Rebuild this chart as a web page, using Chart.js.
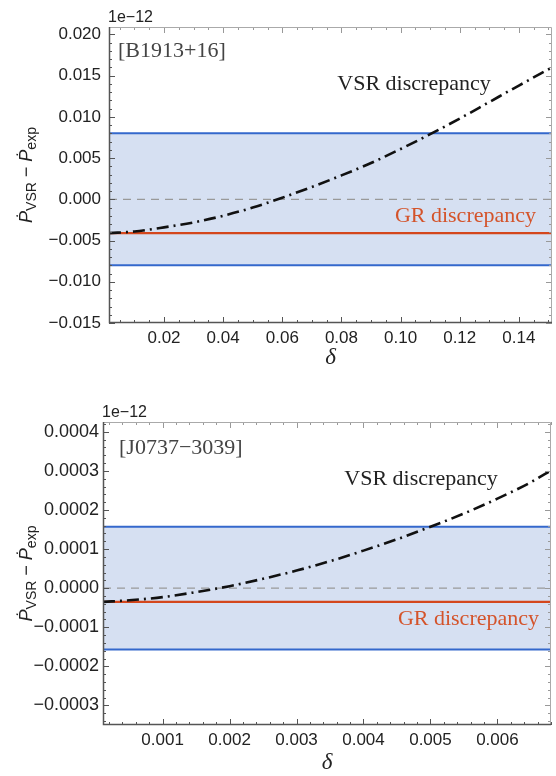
<!DOCTYPE html>
<html><head><meta charset="utf-8">
<script src="https://cdn.jsdelivr.net/npm/chart.js@4.4.0/dist/chart.umd.min.js"></script>
<style>
html,body{margin:0;padding:0;background:#fff;}
body{width:556px;height:776px;overflow:hidden;}
canvas{display:block;}
</style>
</head><body>
<canvas id="c1" width="556" height="378"></canvas>
<canvas id="c2" width="556" height="398"></canvas>
<script>
// ---------- DATA: top panel [B1913+16] ----------
const deltaTop = [0.0014, 0.01, 0.02, 0.03, 0.04, 0.05, 0.06, 0.07, 0.08, 0.09, 0.10, 0.11, 0.12, 0.13, 0.14, 0.1512];
const vsrTop   = [-0.0041, -0.0039, -0.0034, -0.0028, -0.0020, -0.0010, 0.0002, 0.0015, 0.0029, 0.0044, 0.0061, 0.0079, 0.0098, 0.0118, 0.0138, 0.0160];
const bandTop  = [-0.008, 0.008];
const grTop    = -0.0041;
const xRangeTop = [0.0014, 0.1512];
const yRangeTop = [-0.015, 0.0209];
const xStepsTop = [0.005, 0.02];   // minor, major
const yStepsTop = [0.001, 0.005];

// ---------- DATA: bottom panel [J0737-3039] ----------
const deltaBot = [0.00011, 0.0005, 0.001, 0.0015, 0.002, 0.0025, 0.003, 0.0035, 0.004, 0.0045, 0.005, 0.0055, 0.006, 0.0065, 0.0068];
const vsrBot   = [-0.000035, -0.000031, -0.000023, -0.000010, 0.000005, 0.000024, 0.000045, 0.000069, 0.000096, 0.000125, 0.000157, 0.000191, 0.000229, 0.000271, 0.000301];
const bandBot  = [-0.000157, 0.000157];
const grBot    = -0.000035;
const xRangeBot = [0.00011, 0.0068];
const yRangeBot = [-0.00035, 0.000425];
const xStepsBot = [0.0002, 0.001];
const yStepsBot = [0.00002, 0.0001];

// ---------- STYLE ----------
const BLUE = '#3468cc', FILL = '#d6e0f2', RED = '#d4471d', REDTXT = '#d4532a';
const SANS = '"Liberation Sans", Arial, sans-serif';
const SERIF = '"Liberation Serif", "Times New Roman", serif';

function isMajor(v, major){ const r = v/major; return Math.abs(r - Math.round(r)) < 1e-6; }
function fmt(v, dec){ return v.toFixed(dec).replace('-', '\u2212'); }

const framePlugin = {
  id: 'frame',
  afterDatasetsDraw(chart){
    const {ctx, chartArea:a, scales:{x, y}} = chart;
    ctx.save();
    ctx.lineWidth = 1;
    x.ticks.forEach(t => {
      const len = t.label !== '' ? 6 : 3;
      const p = Math.round(x.getPixelForValue(t.value)) + 0.5;
      ctx.strokeStyle = '#555';
      ctx.beginPath(); ctx.moveTo(p, a.bottom); ctx.lineTo(p, a.bottom - len); ctx.stroke();
      ctx.strokeStyle = '#999';
      ctx.beginPath(); ctx.moveTo(p, a.top); ctx.lineTo(p, a.top + len); ctx.stroke();
    });
    y.ticks.forEach(t => {
      const len = t.label !== '' ? 6 : 3;
      const p = Math.round(y.getPixelForValue(t.value)) + 0.5;
      ctx.strokeStyle = '#555';
      ctx.beginPath(); ctx.moveTo(a.left, p); ctx.lineTo(a.left + len, p); ctx.stroke();
      ctx.strokeStyle = '#999';
      ctx.beginPath(); ctx.moveTo(a.right, p); ctx.lineTo(a.right - len, p); ctx.stroke();
    });
    ctx.strokeStyle = '#aaa';
    ctx.lineWidth = 1;
    ctx.beginPath();
    ctx.moveTo(a.left, a.top + 0.5); ctx.lineTo(a.right - 0.5, a.top + 0.5); ctx.lineTo(a.right - 0.5, a.bottom);
    ctx.stroke();
    ctx.strokeStyle = '#555';
    ctx.lineWidth = 1.5;
    ctx.beginPath();
    ctx.moveTo(a.left + 0.5, a.top); ctx.lineTo(a.left + 0.5, a.bottom - 0.5); ctx.lineTo(a.right, a.bottom - 0.5);
    ctx.stroke();
    ctx.restore();
  }
};

const textPlugin = {
  id: 'texts',
  afterDraw(chart){
    const o = chart.options.plugins.texts;
    const {ctx, chartArea:a} = chart;
    ctx.save();
    // exponent
    ctx.fillStyle = '#222'; ctx.font = '16px ' + SANS; ctx.textAlign = 'left'; ctx.textBaseline = 'alphabetic';
    ctx.fillText('1e\u221212', a.left - 1, a.top - 5);
    // panel label
    ctx.font = '22px ' + SERIF; ctx.fillStyle = '#444';
    ctx.fillText(o.panel[0], o.panel[1], o.panel[2]);
    // VSR label
    ctx.fillStyle = '#222'; ctx.textAlign = 'center';
    ctx.fillText('VSR discrepancy', o.vsr[0], o.vsr[1]);
    // GR label
    ctx.fillStyle = REDTXT; ctx.textAlign = 'right';
    ctx.fillText('GR discrepancy', o.gr[0], o.gr[1]);
    // x title
    ctx.fillStyle = '#222'; ctx.textAlign = 'center';
    ctx.font = 'italic 23px ' + SERIF;
    ctx.fillText('\u03B4', (a.left + a.right)/2, o.xTitleY);
    // y title (rotated)
    const parts = [
      {t:'\u1E56', f:'italic 18px ' + SANS, dy:0},
      {t:'VSR', f:'14px ' + SANS, dy:4},
      {t:' \u2212 ', f:'18px ' + SANS, dy:0},
      {t:'\u1E56', f:'italic 18px ' + SANS, dy:0},
      {t:'exp', f:'14px ' + SANS, dy:4}
    ];
    let w = 0;
    parts.forEach(p => { ctx.font = p.f; p.w = ctx.measureText(p.t).width; w += p.w; });
    ctx.translate(o.yTitleX, (a.top + a.bottom)/2);
    ctx.rotate(-Math.PI/2);
    ctx.textAlign = 'left';
    let cx = -w/2;
    parts.forEach(p => { ctx.font = p.f; ctx.fillText(p.t, cx, p.dy); cx += p.w; });
    ctx.restore();
  }
};

function makeChart(id, d) {
  const lineDs = (yv, color, extra) => Object.assign({
    data: [{x: d.xr[0], y: yv}, {x: d.xr[1], y: yv}],
    borderColor: color, borderWidth: 2, pointRadius: 0, fill: false
  }, extra || {});
  return new Chart(document.getElementById(id), {
    type: 'line',
    data: {
      datasets: [
        { data: d.delta.map((v, i) => ({x: v, y: d.vsr[i]})), borderColor: '#111', borderWidth: 2.6,
          borderDash: [12, 5, 2, 5], pointRadius: 0, cubicInterpolationMode: 'monotone', fill: false, order: 0 },
        lineDs(d.gr, RED, {order: 1, borderWidth: 2.2}),
        lineDs(0, '#999', {order: 2, borderWidth: 1.3, borderDash: [8, 6]}),
        lineDs(d.band[0], BLUE, {order: 3}),
        lineDs(d.band[1], BLUE, {order: 4, fill: {value: d.band[0]}, backgroundColor: FILL})
      ]
    },
    options: {
      responsive: false, animation: false, devicePixelRatio: 1,
      layout: { padding: { top: d.pad.top, right: d.pad.right, left: 0, bottom: 0 } },
      plugins: { legend: {display: false}, tooltip: {enabled: false}, texts: d.texts },
      scales: {
        x: {
          type: 'linear', min: d.xr[0], max: d.xr[1],
          grid: {display: false, drawTicks: false}, border: {display: false},
          ticks: { stepSize: d.xs[0], autoSkip: false, includeBounds: false, maxRotation: 0, padding: 5,
            color: '#222', font: {family: SANS, size: 17},
            callback: v => isMajor(v, d.xs[1]) ? fmt(v, d.xdec) : '' },
          afterFit: s => { s.height = d.xh; }
        },
        y: {
          type: 'linear', min: d.yr[0], max: d.yr[1],
          grid: {display: false, drawTicks: false}, border: {display: false},
          ticks: { stepSize: d.ys[0], autoSkip: false, includeBounds: false, padding: d.ypad,
            color: '#222', font: {family: SANS, size: d.yfs},
            callback: v => isMajor(v, d.ys[1]) ? fmt(v, d.ydec) : '' },
          afterFit: s => { s.width = d.yw; }
        }
      }
    },
    plugins: [framePlugin, textPlugin]
  });
}

makeChart('c1', {
  delta: deltaTop, vsr: vsrTop, band: bandTop, gr: grTop,
  xr: xRangeTop, yr: yRangeTop, xs: xStepsTop, ys: yStepsTop, xdec: 2, ydec: 3,
  pad: {top: 27, right: 4}, xh: 55, yw: 109, ypad: 8, yfs: 17,
  texts: { panel: ['[B1913+16]', 118, 57], vsr: [414, 90], gr: [536, 222], xTitleY: 364, yTitleX: 32 }
});
makeChart('c2', {
  delta: deltaBot, vsr: vsrBot, band: bandBot, gr: grBot,
  xr: xRangeBot, yr: yRangeBot, xs: xStepsBot, ys: yStepsBot, xdec: 3, ydec: 4,
  pad: {top: 44, right: 1}, xh: 51, yw: 103, ypad: 4, yfs: 18,
  texts: { panel: ['[J0737\u22123039]', 119, 76], vsr: [421, 107], gr: [539, 247], xTitleY: 391, yTitleX: 32 }
});
</script>
</body></html>
